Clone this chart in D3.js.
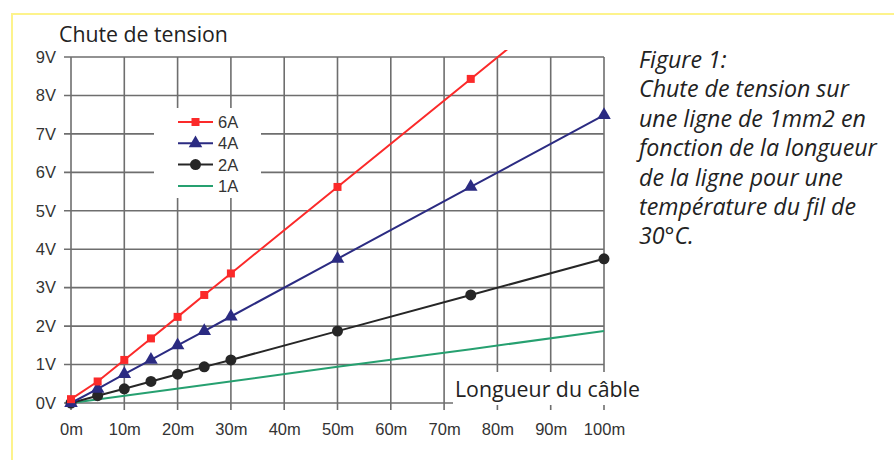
<!DOCTYPE html>
<html><head><meta charset="utf-8">
<script src="https://cdn.jsdelivr.net/npm/d3@7/dist/d3.min.js"></script>
<style>html,body{margin:0;padding:0;background:#fff;}svg{display:block;}</style>
</head><body>
<svg id="c" width="894" height="460"></svg>
<script>
const distances = [0, 5, 10, 15, 20, 25, 30, 50, 75, 100];
const amps6 = [0.1, 0.56, 1.12, 1.68, 2.24, 2.81, 3.37, 5.62, 8.43, 11.24];
const amps4 = [0, 0.37, 0.75, 1.12, 1.5, 1.87, 2.25, 3.75, 5.62, 7.49];
const amps2 = [0, 0.19, 0.37, 0.56, 0.75, 0.94, 1.12, 1.87, 2.81, 3.75];
const distances1 = [0, 25, 50, 75, 100];
const amps1 = [0, 0.47, 0.94, 1.4, 1.87];
const xTicks = [0, 10, 20, 30, 40, 50, 60, 70, 80, 90, 100];
const yTicks = [0, 1, 2, 3, 4, 5, 6, 7, 8, 9];
const seriesNames = ["6A", "4A", "2A", "1A"];
const captionLines = ["Figure 1:", "Chute de tension sur", "une ligne de 1mm2 en", "fonction de la longueur", "de la ligne pour une", "température du fil de", "30°C."];

const svg = d3.select("#c");
const x = d3.scaleLinear().domain([0, 100]).range([71, 604]);
const y = d3.scaleLinear().domain([0, 9]).range([403, 57]);

// yellow frame
svg.append("path").attr("d", "M12,460 L12,14 L894,14").attr("fill", "none").attr("stroke", "#fdf38c").attr("stroke-width", 2);

const gridColor = "#6e6e6e";
// vertical grid lines + ticks
const xAxis = d3.axisBottom(x).tickValues(xTicks).tickFormat(d => d + "m").tickSize(0).tickPadding(0);
svg.selectAll(".vg").data(xTicks).enter().append("line")
  .attr("x1", d => x(d)).attr("x2", d => x(d)).attr("y1", y(9)).attr("y2", 410)
  .attr("stroke", gridColor).attr("stroke-width", 1.6);
svg.selectAll(".hg").data(yTicks).enter().append("line")
  .attr("y1", d => y(d)).attr("y2", d => y(d)).attr("x1", 64).attr("x2", x(100))
  .attr("stroke", gridColor).attr("stroke-width", 1.6);

// axes labels via d3 axes (no domain)
const gx = svg.append("g").attr("transform", "translate(0,423)").call(xAxis);
gx.select(".domain").remove();
gx.selectAll("text").attr("font-family", "Liberation Sans, Arial, sans-serif").attr("font-size", 16.5).attr("fill", "#333").attr("dy", "0.71em");
const yAxis = d3.axisLeft(y).tickValues(yTicks).tickFormat(d => d + "V").tickSize(0).tickPadding(0);
const gy = svg.append("g").attr("transform", "translate(56,0)").call(yAxis);
gy.select(".domain").remove();
gy.selectAll("text").attr("font-family", "Liberation Sans, Arial, sans-serif").attr("font-size", 16.5).attr("fill", "#333");

// legend white box
svg.append("rect").attr("x", 154).attr("y", 108).attr("width", 107).attr("height", 90).attr("fill", "#fff");
// x label white box
svg.append("rect").attr("x", 453).attr("y", 372).attr("width", 190).attr("height", 33).attr("fill", "#fff");

// clip for lines
svg.append("clipPath").attr("id", "clip").append("rect").attr("x", 60).attr("y", 50).attr("width", 560).attr("height", 370);

const colors = {"6A": "#fb2a2a", "4A": "#2b2b82", "2A": "#262626", "1A": "#26a070"};
const sets = [
  {name: "6A", xs: distances, ys: amps6, marker: "square"},
  {name: "4A", xs: distances, ys: amps4, marker: "triangle"},
  {name: "2A", xs: distances, ys: amps2, marker: "circle"},
  {name: "1A", xs: distances1, ys: amps1, marker: null}
];
const line = d3.line().x(d => x(d[0])).y(d => y(d[1]));
const sym = {square: d3.symbol().type(d3.symbolSquare).size(64), triangle: d3.symbol().type(d3.symbolTriangle).size(80), circle: d3.symbol().type(d3.symbolCircle).size(95)};
const plot = svg.append("g").attr("clip-path", "url(#clip)");
sets.slice().reverse().forEach(s => {
  const pts = s.xs.map((d, i) => [d, s.ys[i]]);
  plot.append("path").datum(pts).attr("d", line).attr("fill", "none").attr("stroke", colors[s.name]).attr("stroke-width", 2);
  if (s.marker) {
    plot.selectAll(null).data(pts).enter().append("path")
      .attr("d", sym[s.marker]).attr("transform", d => `translate(${x(d[0])},${y(d[1])})`)
      .attr("fill", colors[s.name]);
  }
});

// legend
const lg = svg.append("g");
sets.forEach((s, i) => {
  const yy = 122 + i * 21.3;
  lg.append("line").attr("x1", 178).attr("x2", 213).attr("y1", yy).attr("y2", yy).attr("stroke", colors[s.name]).attr("stroke-width", 2);
  if (s.marker) lg.append("path").attr("d", sym[s.marker]).attr("transform", `translate(195.5,${yy})`).attr("fill", colors[s.name]);
  lg.append("text").attr("x", 218).attr("y", yy).attr("dy", "0.36em").text(seriesNames[i])
    .attr("font-family", "Liberation Sans, Arial, sans-serif").attr("font-size", 16.5).attr("fill", "#333");
});

function fit(t, w) {
  const l = t.node().getComputedTextLength();
  const fs = parseFloat(t.attr("font-size"));
  t.attr("font-size", fs * w / l);
}
const t1 = svg.append("text").attr("x", 59).attr("y", 41.5).text("Chute de tension")
  .attr("font-family", "Open Sans, sans-serif").attr("font-size", 18).attr("fill", "#222");
fit(t1, 169);
const t2 = svg.append("text").attr("x", 455).attr("y", 396.5).text("Longueur du câble")
  .attr("font-family", "Open Sans, sans-serif").attr("font-size", 18).attr("fill", "#222");
fit(t2, 185);

const cap = svg.append("g");
let capFs = 18;
captionLines.forEach((s, i) => {
  cap.append("text").attr("x", 639).attr("y", 68 + i * 29.4).text(s)
    .attr("font-family", "Open Sans, sans-serif").attr("font-style", "italic").attr("font-size", 18).attr("fill", "#222");
});
const ref = cap.selectAll("text").filter((d, i) => i === 3);
const fs = 18 * 238 / ref.node().getComputedTextLength();
cap.selectAll("text").attr("font-size", fs);
</script>
</body></html>
